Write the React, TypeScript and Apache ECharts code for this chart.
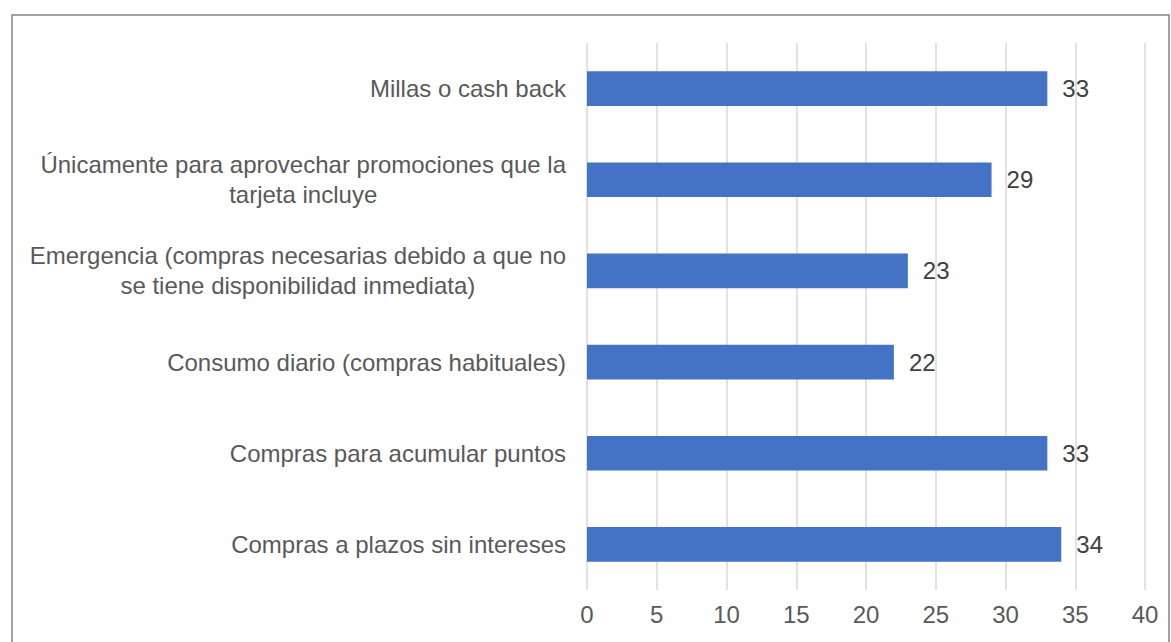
import React, { useEffect, useRef } from "react";
import * as echarts from "echarts";

const categories = [
  "Compras a plazos sin intereses",
  "Compras para acumular puntos",
  "Consumo diario (compras habituales)",
  "Emergencia (compras necesarias debido a que no\nse tiene disponibilidad inmediata)",
  "Únicamente para aprovechar promociones que la\ntarjeta incluye",
  "Millas o cash back",
];
const values = [34, 33, 22, 23, 29, 33];
const xTicks = { min: 0, max: 40, interval: 5 };

export default function App() {
  const ref = useRef<HTMLDivElement>(null);
  useEffect(() => {
    if (!ref.current) return;
    const chart = echarts.init(ref.current, null, { renderer: "svg" });
    const font = "'Liberation Sans', Arial, sans-serif";
    chart.setOption({
      animation: false,
      textStyle: { fontFamily: font },
      graphic: [
        {
          type: "rect",
          shape: { x: 12, y: 15, width: 1157, height: 700 },
          style: { fill: "none", stroke: "#858585", lineWidth: 1.5 },
          silent: true,
        },
      ],
      grid: { left: 587, right: 26, top: 43, bottom: 52 },
      xAxis: {
        type: "value",
        min: xTicks.min,
        max: xTicks.max,
        interval: xTicks.interval,
        axisLine: { show: false },
        axisTick: { show: false },
        splitLine: { lineStyle: { color: "#d9d9d9", width: 1.5 } },
        axisLabel: { color: "#595959", fontSize: 24, margin: 12, fontFamily: font },
      },
      yAxis: {
        type: "category",
        data: categories,
        axisLine: { show: false },
        axisTick: { show: false },
        axisLabel: {
          color: "#595959",
          fontSize: 24,
          lineHeight: 30,
          margin: 21,
          align: "right",
          fontFamily: font,
          formatter: (v: string) =>
            v
              .split("\n")
              .map((l) => "{c|" + l + "}")
              .join("\n"),
          rich: {
            c: {
              align: "center",
              color: "#595959",
              fontSize: 24,
              lineHeight: 30,
              fontFamily: font,
            },
          },
        },
      },
      series: [
        {
          type: "bar",
          data: values,
          barWidth: "38%",
          itemStyle: { color: "#4472C4" },
          label: {
            show: true,
            position: "right",
            distance: 15,
            color: "#404040",
            fontSize: 24,
            fontFamily: font,
          },
        },
      ],
    });
    return () => chart.dispose();
  }, []);
  return (
    <div
      ref={ref}
      style={{ position: "fixed", left: 0, top: 0, width: 1171, height: 642, background: "#fff" }}
    />
  );
}
